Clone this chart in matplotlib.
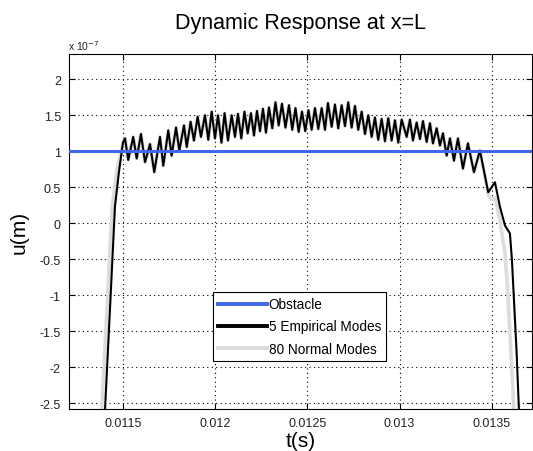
import matplotlib
matplotlib.use('Agg')
from matplotlib import pyplot as plt
import numpy as np

# time in ms, displacement in units of 1e-7 m
# 5 empirical modes (black) - read peak/trough by peak/trough
emp_t = [11.404, 11.431, 11.458, 11.480, 11.5016,
         11.5125, 11.530, 11.557, 11.576, 11.599, 11.621, 11.648, 11.671,
         11.702, 11.720, 11.747, 11.765, 11.789, 11.807, 11.832, 11.847,
         11.868, 11.886, 11.906, 11.924,
         11.9458, 11.9637, 11.9821, 12.000, 12.0162, 12.0352, 12.052, 12.0704,
         12.0905, 12.1083, 12.1246, 12.1425, 12.1598, 12.1771, 12.195, 12.2113,
         12.2275, 12.2438, 12.260, 12.2763, 12.2925, 12.3104, 12.3277, 12.3451,
         12.3629, 12.3819, 12.4009, 12.4187, 12.4361, 12.4534,
         12.4713, 12.4892, 12.5065, 12.5238, 12.5417, 12.5596, 12.578, 12.5959,
         12.6121, 12.6322, 12.65, 12.6679, 12.6863, 12.7042, 12.7221, 12.7405,
         12.7584, 12.7763, 12.7947, 12.8126, 12.8304, 12.8489, 12.8667, 12.8846,
         12.903, 12.9209, 12.9388, 12.9572, 12.9751, 12.993, 13.0114,
         13.0385, 13.0563, 13.0726, 13.0926, 13.1105, 13.1268, 13.1468, 13.1647,
         13.1809, 13.201, 13.2188, 13.2351, 13.2551, 13.273, 13.2947, 13.3164,
         13.3434, 13.3705, 13.403, 13.4355]
emp_u = [-2.6, -1.2, 0.23, 0.72, 1.12,
         1.18, 0.88, 1.20, 0.90, 1.24, 0.85, 1.10, 0.71,
         1.20, 0.80, 1.29, 0.94, 1.33, 1.01, 1.36, 1.06,
         1.41, 1.15, 1.48, 1.20,
         1.50, 1.16, 1.55, 1.18, 1.50, 1.12, 1.53, 1.15,
         1.50, 1.20, 1.52, 1.18, 1.55, 1.25, 1.53, 1.22,
         1.56, 1.28, 1.59, 1.26, 1.61, 1.32, 1.68, 1.36,
         1.66, 1.33, 1.64, 1.30, 1.60, 1.27,
         1.55, 1.28, 1.57, 1.30, 1.60, 1.31, 1.60, 1.30,
         1.67, 1.34, 1.65, 1.32, 1.64, 1.35, 1.68, 1.33,
         1.63, 1.30, 1.55, 1.24, 1.50, 1.20, 1.47, 1.16,
         1.45, 1.14, 1.46, 1.15, 1.43, 1.12, 1.44,
         1.20, 1.44, 1.15, 1.40, 1.17, 1.42, 1.13, 1.39,
         1.11, 1.32, 1.08, 1.25, 0.94, 1.18, 0.87, 1.18,
         0.76, 1.11, 0.71, 1.01]
emp_end_t = [13.4805, 13.5168, 13.5439, 13.571, 13.598, 13.6089, 13.6343, 13.6468]
emp_end_u = [0.43, 0.57, 0.23, -0.03, -0.14, -0.51, -1.8, -2.6]

# 80 normal modes (gray) - differs only at the start and the end
nrm_start_t = [11.3862, 11.415, 11.442, 11.469]
nrm_start_u = [-2.6, -1.2, 0.2, 0.75]
nrm_end_t = [13.4805, 13.4951, 13.5168, 13.5439, 13.560, 13.571, 13.5872, 13.6197]
nrm_end_u = [0.40, 0.33, 0.35, 0.05, -0.25, -0.40, -1.0, -2.6]

obstacle = 1.0

xticks = [0.0115, 0.012, 0.0125, 0.013, 0.0135]
xticklabels = ['0.0115', '0.012', '0.0125', '0.013', '0.0135']
yticks = [-2.5, -2, -1.5, -1, -0.5, 0, 0.5, 1, 1.5, 2]
yticklabels = ['-2.5', '-2', '-1.5', '-1', '-0.5', '0', '0.5', '1', '1.5', '2']

t_emp = np.array(emp_t + emp_end_t) * 1e-3
u_emp = np.array(emp_u + emp_end_u)
t_nrm = np.array(nrm_start_t + emp_t[4:] + nrm_end_t) * 1e-3
u_nrm = np.array(nrm_start_u + emp_u[4:] + nrm_end_u)

plt.rcParams['font.family'] = ['Liberation Sans', 'DejaVu Sans']
fig = plt.figure(figsize=(5.33, 4.52), dpi=100)
ax = fig.add_axes([0.130, 0.093, 0.868, 0.785])

xlim = (0.0112107, 0.0137172)
ax.plot(xlim, [obstacle, obstacle], color='#3F66E8', lw=2.2, zorder=4, label='Obstacle')
ax.plot(t_emp, u_emp, color='black', lw=1.5, zorder=3, label='5 Empirical Modes')
ax.plot(t_nrm, u_nrm, color='#DCDCDC', lw=2.6, zorder=2, label='80 Normal Modes')

ax.set_xlim(xlim)
ax.set_ylim(-2.58, 2.35)
ax.set_xticks(xticks)
ax.set_xticklabels(xticklabels)
ax.set_yticks(yticks)
ax.set_yticklabels(yticklabels)
ax.tick_params(direction='in', top=True, right=True, length=4, labelsize=9,
               labelcolor='#222222', pad=6)
ax.grid(True, linestyle=(0, (1, 3)), color='black', lw=0.8)
for s in ax.spines.values():
    s.set_linewidth(0.8)

ax.set_title('Dynamic Response at x=L', fontsize=15.5, pad=19)
ax.set_xlabel('t(s)', fontsize=15, labelpad=1)
ax.set_ylabel('u(m)', fontsize=15, labelpad=8)
fig.text(0.128, 0.888, r'x 10$^{-7}$', fontsize=7.5, color='#222222')

leg = ax.legend(loc='lower left', bbox_to_anchor=(0.31, 0.135), fontsize=9.8,
                handlelength=3.6, handletextpad=0.1, borderpad=0.4,
                labelspacing=0.6, fancybox=False, framealpha=1,
                edgecolor='black', borderaxespad=0)
leg.get_frame().set_linewidth(0.8)
for h in leg.get_lines():
    h.set_linewidth(2.8)

plt.savefig('out.png', dpi=100)
